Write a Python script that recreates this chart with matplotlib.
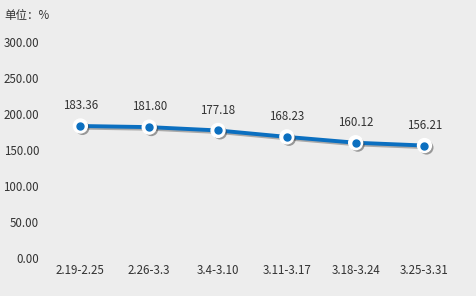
import matplotlib
matplotlib.use("Agg")
import matplotlib.pyplot as plt
import matplotlib.patheffects as pe

plt.rcParams['font.family'] = ['Noto Sans CJK SC', 'DejaVu Sans']

weeks = ['2.19-2.25', '2.26-3.3', '3.4-3.10', '3.11-3.17', '3.18-3.24', '3.25-3.31']
values = [183.36, 181.80, 177.18, 168.23, 160.12, 156.21]
yticks = [0, 50, 100, 150, 200, 250, 300]

bg = '#ededed'
blue = '#0b6fc0'
txt = '#333333'

fig = plt.figure(figsize=(4.77, 2.96), dpi=100)
fig.patch.set_facecolor(bg)
ax = fig.add_axes([0.0964, 0.1284, 0.8656, 0.7296])
ax.set_facecolor(bg)

x = list(range(len(weeks)))
shadow = [pe.SimpleLineShadow(offset=(1.2, -1.2), shadow_color='#444444', alpha=0.4), pe.Normal()]
ax.plot(x, values, color=blue, lw=2.8, zorder=2, path_effects=shadow)
ax.plot(x, values, 'o', ms=10, mfc='white', mec='white', zorder=3,
        path_effects=[pe.SimplePatchShadow(offset=(1.5, -1.5), shadow_rgbFace='#444444', alpha=0.5), pe.Normal()])
ax.plot(x, values, 'o', ms=5, mfc=blue, mec=blue, zorder=4)

for xi, v in zip(x, values):
    ax.annotate(f'{v:.2f}', (xi, v), xytext=(0, 10), textcoords='offset points',
                ha='center', va='bottom', fontsize=8.3, color=txt)

ax.set_xlim(-0.5, len(weeks) - 0.5)
ax.set_ylim(0, 300)
ax.set_xticks(x)
ax.set_xticklabels(weeks)
ax.set_yticks(yticks)
ax.set_yticklabels([f'{t:.2f}' for t in yticks])
ax.tick_params(axis='both', length=0, labelsize=8.3, colors=txt)
ax.tick_params(axis='x', pad=4)
ax.tick_params(axis='y', pad=5)
for s in ax.spines.values():
    s.set_visible(False)

fig.text(0.01, 0.948, '单位：%', fontsize=8.3, color=txt, ha='left', va='center')

fig.savefig('out.png', dpi=100, facecolor=bg)
